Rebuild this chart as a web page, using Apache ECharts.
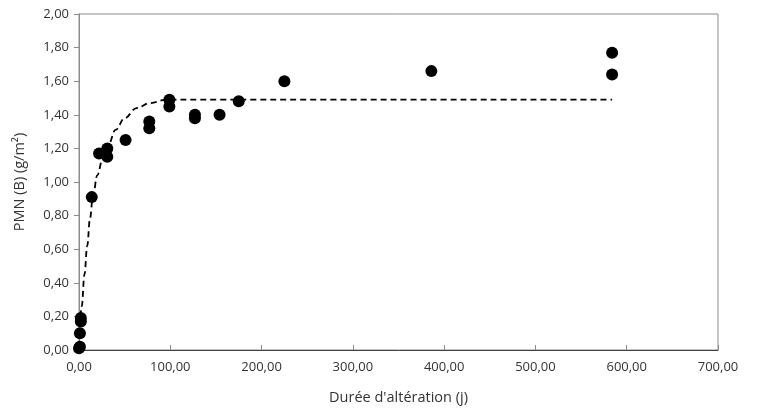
<!DOCTYPE html>
<html>
<head>
<meta charset="utf-8">
<script src="https://cdn.jsdelivr.net/npm/echarts@6/dist/echarts.min.js"></script>
<style>
  html, body { margin: 0; padding: 0; background: #fff; }
  #chart { width: 757px; height: 412px; }
</style>
</head>
<body>
<div id="chart"></div>
<script>
// Measured points: alteration time (days) and PMN(B) (g/m²)
const durees = [0, 1, 1, 2, 2, 14, 22, 31, 31, 51, 77, 77, 99, 99, 127, 127, 154, 175, 225, 386, 584, 584];
const pmn    = [0.01, 0.02, 0.10, 0.17, 0.19, 0.91, 1.17, 1.20, 1.15, 1.25, 1.36, 1.32, 1.49, 1.45, 1.40, 1.38, 1.40, 1.48, 1.60, 1.66, 1.77, 1.64];

// Fitted model curve (dashed)
const fitT = [0, 3, 6, 9, 12, 15, 20, 26, 32, 40, 50, 63, 78, 96, 130, 584];
const fitV = [0.02, 0.26, 0.45, 0.62, 0.78, 0.90, 1.04, 1.14, 1.22, 1.31, 1.38, 1.44, 1.47, 1.49, 1.49, 1.49];

const fmt = v => v.toFixed(2).replace('.', ',');
const font = '"Open Sans", sans-serif';

const chart = echarts.init(document.getElementById('chart'), null, { renderer: 'canvas' });
chart.setOption({
  animation: false,
  backgroundColor: '#fff',
  grid: {
    left: 79, right: 39, top: 14, bottom: 62,
    show: true, borderColor: '#8c8c8c', borderWidth: 1
  },
  xAxis: {
    type: 'value', min: 0, max: 700, interval: 100,
    name: "Durée d'altération (j)", nameLocation: 'middle', nameGap: 40,
    nameTextStyle: { fontFamily: font, fontSize: 14.5, color: '#333' },
    axisLine: { show: true, lineStyle: { color: '#404040', width: 1 } },
    axisTick: { show: true, inside: true, length: 5, lineStyle: { color: '#8c8c8c' } },
    axisLabel: { formatter: fmt, fontFamily: font, fontSize: 13, color: '#333', margin: 11 },
    splitLine: { show: false }
  },
  yAxis: {
    type: 'value', min: 0, max: 2, interval: 0.2,
    name: 'PMN (B) (g/m²)', nameLocation: 'middle', nameGap: 52, nameRotate: 90,
    nameTextStyle: { fontFamily: font, fontSize: 14.5, color: '#333' },
    axisLine: { show: true, lineStyle: { color: '#8c8c8c', width: 1 } },
    axisTick: { show: true, inside: false, length: 5, lineStyle: { color: '#8c8c8c' } },
    axisLabel: { formatter: fmt, fontFamily: font, fontSize: 13, color: '#333', margin: 10 },
    splitLine: { show: false }
  },
  series: [
    {
      type: 'line',
      data: fitT.map((t, i) => [t, fitV[i]]),
      smooth: 0.4,
      smoothMonotone: 'x',
      showSymbol: false,
      lineStyle: { color: '#000', width: 1.8, type: [6, 4] },
      z: 2
    },
    {
      type: 'scatter',
      data: durees.map((t, i) => [t, pmn[i]]),
      symbol: 'circle', symbolSize: 12,
      itemStyle: { color: '#000', opacity: 1 },
      z: 3
    }
  ]
});
</script>
</body>
</html>
